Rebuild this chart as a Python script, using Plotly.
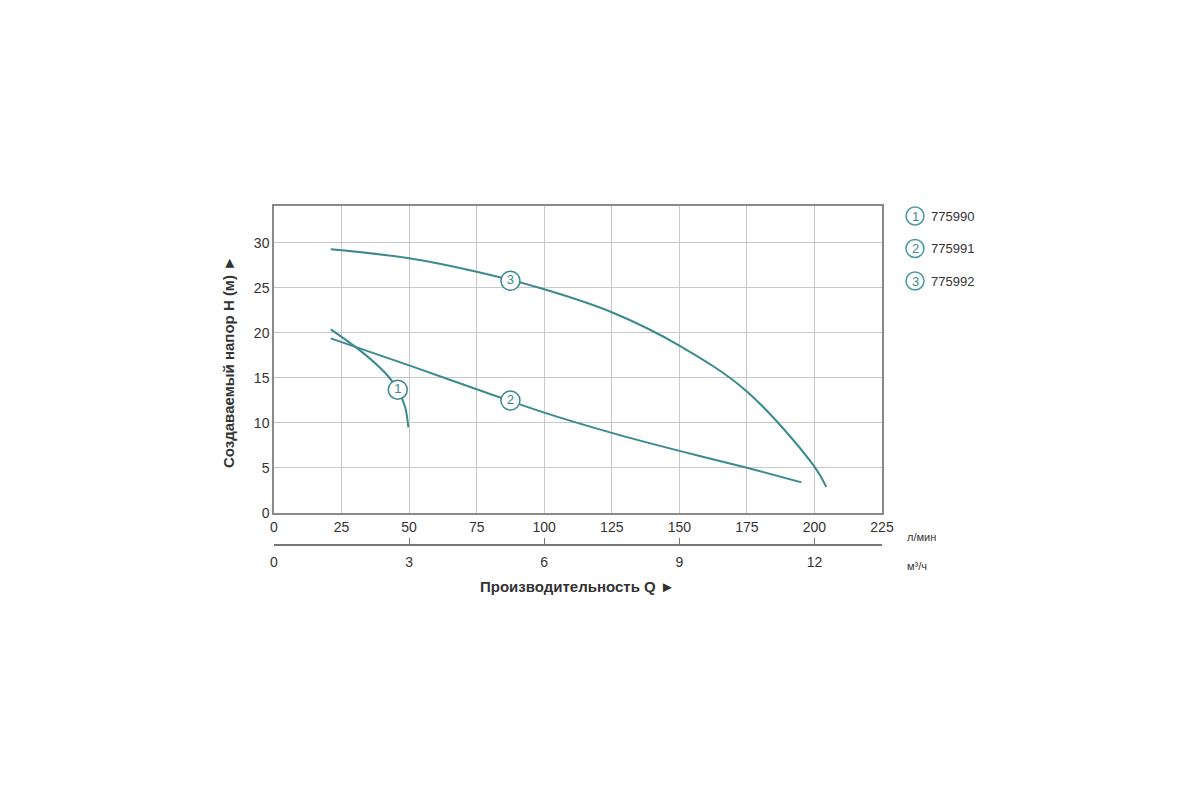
import plotly.graph_objects as go

# pump curves, Q in l/min, H in m
q1 = [21, 32.5, 41, 45.8, 48.5, 49.7]
h1 = [20.4, 17.9, 15.6, 13.7, 11.8, 9.5]

q2 = [21, 50, 75, 100, 125, 150, 175, 195.2]
h2 = [19.4, 16.4, 13.75, 11.15, 8.9, 6.9, 5.03, 3.4]

q3 = [21, 50, 75, 100, 125, 150, 175, 200, 204.4]
h3 = [29.3, 28.3, 26.8, 24.85, 22.3, 18.6, 13.5, 5.15, 2.9]

# where the numbered circles sit on each curve
label_q = [45.8, 87.5, 87.5]
label_h = [13.7, 12.5, 25.8]
label_txt = ['1', '2', '3']
models = ['775990', '775991', '775992']

x_ticks = [0, 25, 50, 75, 100, 125, 150, 175, 200, 225]
m3_ticks = [0, 3, 6, 9, 12]

TEAL = '#3b8a8f'
FONT = 'Liberation Sans Narrow, Liberation Sans, Arial, sans-serif'

# page offset (body margin) and plot area in screen pixels
OFF = 8
L, R, T, B = 274, 882, 206, 600
W, H = 1200, 800


def px(x, y):
    return (x - L) / (R - L), (B - y) / (B - T)


fig = go.Figure()
for q, h in [(q1, h1), (q2, h2), (q3, h3)]:
    fig.add_trace(go.Scatter(x=q, y=h, mode='lines', line=dict(color=TEAL, width=2, shape='spline', smoothing=1.0),
                             hoverinfo='skip', showlegend=False))

fig.add_trace(go.Scatter(x=label_q, y=label_h, mode='markers+text', text=label_txt,
                         textposition='middle center', textfont=dict(size=13, color=TEAL, family=FONT),
                         marker=dict(size=19, color='white', line=dict(color=TEAL, width=1.5)),
                         hoverinfo='skip', showlegend=False))

# invisible trace to carry the m3/h axis
fig.add_trace(go.Scatter(x=[q * 0.06 for q in q3], y=h3, xaxis='x2', mode='lines',
                         line=dict(width=0), hoverinfo='skip', showlegend=False))

y_dom0 = (B - 513) / (B - T)
fig.update_layout(
    width=W, height=H,
    margin=dict(l=L - OFF, r=W - R + OFF, t=T - OFF, b=H - B + OFF),
    paper_bgcolor='white', plot_bgcolor='white',
    font=dict(family=FONT, size=14, color='#333'),
    xaxis=dict(range=[0, 225], tickvals=x_ticks, showgrid=True, gridcolor='#c8c8c8', gridwidth=1,
               showline=True, linecolor='#8a8a8a', linewidth=1.5, mirror=True, ticks='',
               zeroline=False, fixedrange=True),
    yaxis=dict(range=[0, 34.1], tickvals=[0, 5, 10, 15, 20, 25, 30], domain=[y_dom0, 1],
               showgrid=True, gridcolor='#c8c8c8', gridwidth=1,
               showline=True, linecolor='#8a8a8a', linewidth=1.5, mirror=True, ticks='',
               zeroline=False, fixedrange=True),
    xaxis2=dict(range=[0, 13.5], tickvals=m3_ticks, overlaying='x', anchor='free',
                position=(B - 545) / (B - T), side='bottom', showgrid=False, showline=True,
                linecolor='#777', linewidth=1.5, ticks='inside', ticklen=6, tickcolor='#777',
                ticklabelstandoff=4, zeroline=False, fixedrange=True),
)

ann = []
x, y = px(228, 362)
ann.append(dict(x=x, y=y, text='<b>Создаваемый напор H (м) ►</b>', textangle=-90, font=dict(size=15, color='#333')))
x, y = px(577, 586)
ann.append(dict(x=x, y=y, text='<b>Производительность Q ►</b>', font=dict(size=15, color='#333')))
x, y = px(921, 537)
ann.append(dict(x=x, y=y, text='л/мин', font=dict(size=11, color='#333')))
x, y = px(917, 566)
ann.append(dict(x=x, y=y, text='м³/ч', font=dict(size=11, color='#333')))

shapes = []
for i, (n, m) in enumerate(zip(label_txt, models)):
    cy = 216 + i * 32.5
    x, y = px(915, cy)
    shapes.append(dict(type='circle', xref='paper', yref='paper', xsizemode='pixel', ysizemode='pixel',
                       xanchor=x, yanchor=y, x0=-9, x1=9, y0=-9, y1=9,
                       line=dict(color='#4a9aa3', width=1.5), fillcolor='white'))
    ann.append(dict(x=x, y=y, text=n, font=dict(size=13, color=TEAL)))
    x, y = px(929, cy)
    ann.append(dict(x=x, y=y, text=m, xanchor='left', font=dict(size=13, color='#333')))

for a in ann:
    a.setdefault('xanchor', 'center')
    a.update(xref='paper', yref='paper', yanchor='middle', showarrow=False)
fig.update_layout(annotations=ann, shapes=shapes)

fig.write_html('out.html')
